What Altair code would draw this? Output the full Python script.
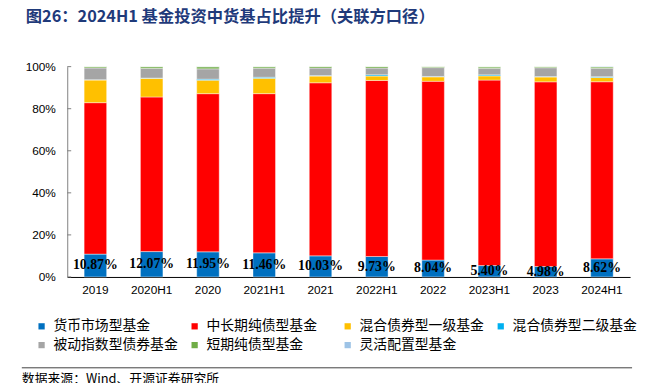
import altair as alt
import pandas as pd

categories = ["2019", "2020H1", "2020", "2021H1", "2021", "2022H1", "2022", "2023H1", "2023", "2024H1"]
series = ["货币市场型基金", "中长期纯债型基金", "混合债券型一级基金", "混合债券型二级基金",
          "被动指数型债券基金", "短期纯债型基金", "灵活配置型基金"]
colors = ["#0070C0", "#FF0000", "#FFC000", "#00B0F0", "#A5A5A5", "#70AD47", "#9DC3E6"]

money = [10.87, 12.07, 11.95, 11.46, 10.03, 9.73, 8.04, 5.40, 4.98, 8.62]
mid_long = [72.0, 73.5, 75.2, 75.7, 82.3, 83.7, 85.0, 88.2, 87.8, 84.2]
hybrid1 = [10.8, 8.9, 6.4, 7.3, 3.2, 2.1, 2.1, 2.0, 2.3, 2.0]
hybrid2 = [0.1, 0.1, 0.5, 0.5, 0.2, 0.6, 0.2, 0.5, 0.2, 0.4]
passive = [5.6, 4.6, 4.9, 4.3, 3.6, 3.2, 4.2, 3.1, 4.2, 4.0]
short = [0.6, 0.8, 1.0, 0.7, 0.7, 0.7, 0.5, 0.7, 0.5, 0.6]
flexible = [0.03, 0.03, 0.05, 0.04, 0.0, 0.0, 0.0, 0.0, 0.0, 0.2]

y_ticks = [0, 20, 40, 60, 80, 100]

title_text = "图26：2024H1 基金投资中货基占比提升（关联方口径）"
source_text = "数据来源：Wind、开源证券研究所"

values = [money, mid_long, hybrid1, hybrid2, passive, short, flexible]
rows = []
for i, c in enumerate(categories):
    for j, s in enumerate(series):
        rows.append({"cat": c, "series": s, "order": j, "value": values[j][i]})
df = pd.DataFrame(rows)

lab = pd.DataFrame({"cat": categories, "money": money})
lab["mid"] = lab["money"] / 2
lab["txt"] = [f"{v:.2f}%" for v in money]

tick_df = pd.DataFrame({"v": y_ticks})
one = pd.DataFrame({"a": [0]})

x_enc = alt.X("cat:N", sort=categories,
              scale=alt.Scale(paddingInner=0.6, paddingOuter=0.3),
              axis=alt.Axis(title=None, labelAngle=0, ticks=False, domainColor="#000000",
                            domainWidth=1, labelFont="Liberation Sans", labelFontSize=12,
                            labelColor="#000000", labelPadding=8))
y_scale = alt.Scale(domain=[0, 100], nice=False)

bars = alt.Chart(df).mark_bar(stroke="white", strokeWidth=0.8, strokeOpacity=0.5).encode(
    x=x_enc,
    y=alt.Y("value:Q", stack="zero", scale=y_scale,
            axis=alt.Axis(title=None, values=y_ticks, labelExpr="datum.value + '%'",
                          ticks=False, grid=False, domainColor="#808080", domainWidth=1,
                          labelFont="Liberation Sans", labelFontSize=12, labelColor="#000000",
                          labelPadding=12)),
    color=alt.Color("series:N", scale=alt.Scale(domain=series, range=colors),
                    legend=alt.Legend(title=None, orient="none", legendX=-33, legendY=256,
                                      direction="horizontal", columns=4, symbolType="square",
                                      symbolSize=40, symbolStrokeWidth=0,
                                      labelFont="Noto Sans CJK SC", labelFontSize=14,
                                      labelColor="#000000", columnPadding=10, rowPadding=5,
                                      gridAlign="all", labelOffset=5, padding=0,
                                      labelLimit=300)),
    order=alt.Order("order:Q", sort="ascending"),
)

labels = alt.Chart(lab).mark_text(font="Liberation Serif", fontSize=14, fontWeight="bold",
                                  color="#000000", baseline="middle").encode(
    x=alt.X("cat:N", sort=categories),
    y=alt.Y("mid:Q", scale=y_scale),
    text="txt:N",
)

ticks = alt.Chart(tick_df).mark_rule(color="#808080", strokeWidth=1).encode(
    y=alt.Y("v:Q", scale=y_scale),
    x=alt.value(0),
    x2=alt.value(4),
)

title = alt.Chart(one).mark_text(font="Noto Sans CJK SC", fontSize=16.5, fontWeight="bold",
                                 align="left", baseline="middle", color="#1F3A7A").encode(
    x=alt.value(-42), y=alt.value(-50), text=alt.value(title_text)
)

footer_line = alt.Chart(one).mark_rule(color="#404040", strokeWidth=1).encode(
    x=alt.value(-46), x2=alt.value(572), y=alt.value(305)
)
footer_text = alt.Chart(one).mark_text(font="Noto Sans CJK SC", fontSize=13, align="left",
                                       baseline="middle", color="#000000").encode(
    x=alt.value(-46), y=alt.value(316), text=alt.value(source_text)
)

chart = alt.layer(bars, labels, ticks, title, footer_line, footer_text).resolve_scale(
    y="shared"
).properties(
    width=570, height=213,
    autosize=alt.AutoSizeParams(type="none"),
    padding={"left": 60, "top": 57, "right": 8, "bottom": 105},
).configure_view(stroke=None)

chart.save("out.html", embed_options={"renderer": "svg", "actions": False})
